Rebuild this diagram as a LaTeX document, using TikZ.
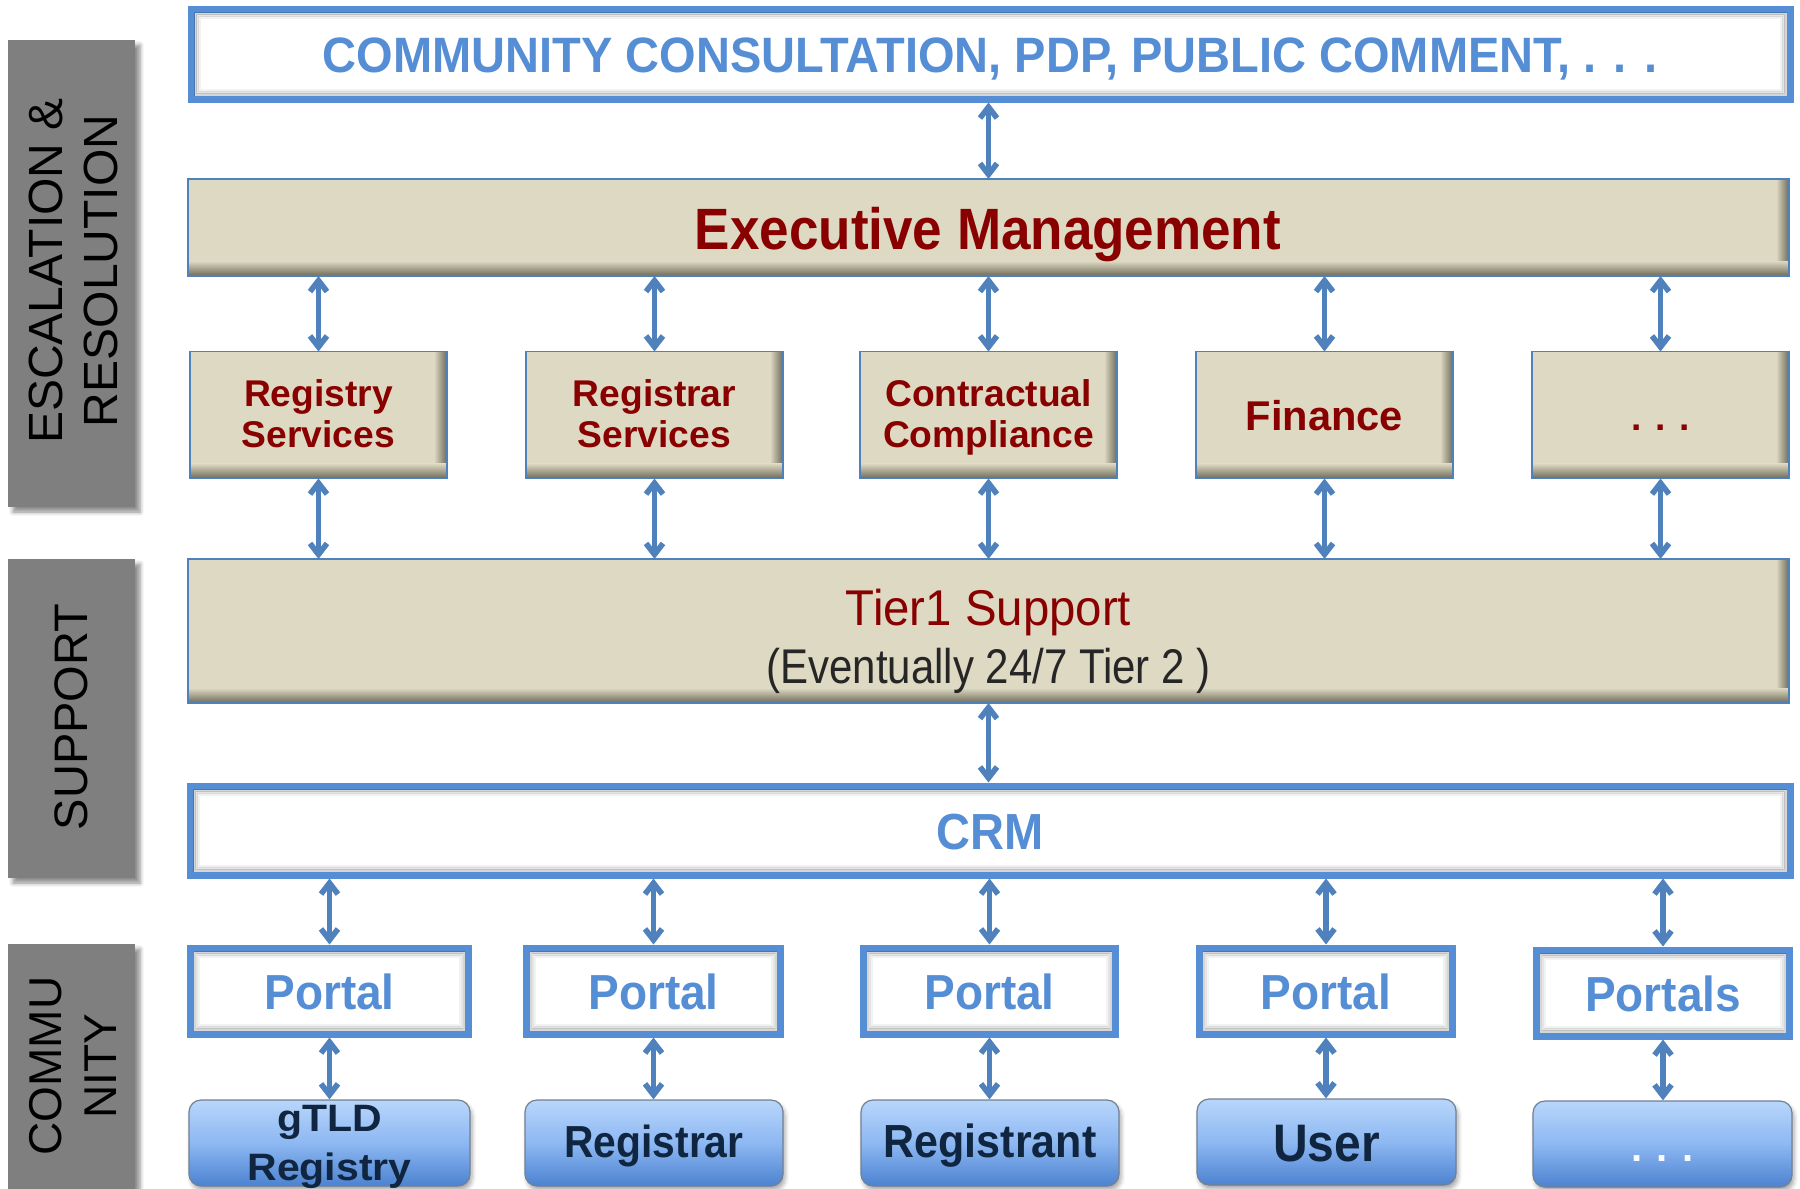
\documentclass[tikz,border=0pt]{standalone}
\usepackage{graphicx}
\usepackage{fontspec}
\setmainfont{Liberation Sans}
\usetikzlibrary{arrows.meta,calc,shadows.blur}
\definecolor{lineblue}{HTML}{558ED5}
\definecolor{arrblue}{HTML}{4F81BD}
\definecolor{tanfill}{HTML}{DDD9C3}
\definecolor{tandark}{HTML}{6F6A57}
\definecolor{dred}{HTML}{880000}
\definecolor{navy}{HTML}{10253F}
\definecolor{barg}{HTML}{7F7F7F}
\definecolor{btop}{HTML}{B8D6FB}
\definecolor{bmid}{HTML}{8DB8F2}
\definecolor{bbot}{HTML}{4C82D0}
\newcommand\fsz[2]{\fontsize{#1pt}{#2pt}\selectfont}
\newcommand\vsc[2]{\scalebox{1}[#1]{#2}}
\newcommand\tanshade[1]{%
  \begin{scope}
    \clip (#1.south west) rectangle (#1.north east);
    \shade[left color=tanfill, right color=tandark] ($(#1.north east)+(-13,0)$) rectangle (#1.south east);
    \shade[top color=tanfill, bottom color=tandark] ($(#1.south west)+(0,-15)$) rectangle (#1.south east);
  \end{scope}
  \draw[arrblue, line width=0.9pt] (#1.south west) rectangle (#1.north east);}
\newcommand\innerglow[1]{%
  \foreach \k/\o in {8/0.16,10/0.10,12/0.05}{%
    \draw[black, opacity=\o, line width=1.2pt] ($(#1.south west)+(\k,-\k)$) rectangle ($(#1.north east)+(-\k,\k)$);}}
\begin{document}
\begin{tikzpicture}[x=0.5pt,y=-0.5pt,
  graybar/.style={fill=barg, inner sep=0pt,
    blur shadow={shadow xshift=2.5pt, shadow yshift=-2.5pt, shadow blur steps=5, shadow opacity=45}},
  bartext/.style={align=center, text=black, inner sep=0pt},
  whitebox/.style={draw=lineblue, line width=3.5pt, fill=white, inner sep=0pt},
  tanbox/.style={draw=arrblue, line width=0.9pt, fill=tanfill, inner sep=0pt, outer sep=0pt},
  btn/.style={rounded corners=6pt, draw=gray!70!arrblue, line width=0.6pt, top color=btop, bottom color=bbot, middle color=bmid,
    inner sep=0pt,
    blur shadow={shadow xshift=1pt, shadow yshift=-2pt, shadow blur steps=4, shadow opacity=35}},
  lbl/.style={inner sep=0pt, anchor=base},
  bluelbl/.style={lbl, text=lineblue, font=\bfseries},
  redlbl/.style={lbl, text=dred, font=\bfseries\fsz{18.6}{22}},
  navylbl/.style={lbl, text=navy, font=\bfseries},
  link/.style={arrblue, line width=2.8pt, {Straight Barb[length=5.5pt,width=8.5pt]}-{Straight Barb[length=5.5pt,width=8.5pt]}}
]
\useasboundingbox (0,0) rectangle (1800,1189);
\clip (0,0) rectangle (1800,1189);

% side bars
\node[graybar, minimum width=63.5pt, minimum height=233.5pt] (gb1) at (71.5,273.5) {};
\node[graybar, minimum width=63.5pt, minimum height=159.5pt] (gb2) at (71.5,718.5) {};
\node[graybar, minimum width=63.5pt, minimum height=128pt] (gb3) at (71.5,1072) {};
\node[bartext, rotate=90, font=\fsz{24}{27.5}] (gt1) at (73,271) {ESCALATION \&\\RESOLUTION};
\node[bartext, rotate=90, font=\fsz{23.5}{27.5}] (gt2) at (71.5,717) {SUPPORT};
\node[bartext, rotate=90, font=\fsz{23}{27.5}] (gt3) at (73,1066) {COMMU\\NITY};

% top box
\node[whitebox, minimum width=799.5pt, minimum height=45pt] (top) at (990.5,54) {};
\innerglow{top}
\node[bluelbl, font=\bfseries\fsz{23.5}{28}] (topt) at (990,72.3) {\vsc{1.057}{COMMUNITY CONSULTATION, PDP, PUBLIC COMMENT, . . .}};

% executive
\node[tanbox, minimum width=800.5pt, minimum height=48.5pt] (exec) at (988.5,227.5) {};
\tanshade{exec}
\node[lbl, text=dred, font=\bfseries\fsz{26.5}{30}] (exect) at (988,249) {\vsc{1.10}{Executive Management}};

% middle boxes
\foreach \i/\x in {1/318.5,2/654.5,3/988.5,4/1324.5,5/1660.5}{
  \node[tanbox, minimum width=128.5pt, minimum height=63.5pt] (m\i) at (\x,415) {};
  \tanshade{m\i}
}
\node[redlbl] (mt1a) at (318.5,406.7) {Registry};
\node[redlbl] (mt1b) at (318.5,447.3) {Services};
\node[redlbl] (mt2a) at (654.5,406.7) {Registrar};
\node[redlbl] (mt2b) at (654.5,447.3) {Services};
\node[redlbl] (mt3a) at (988.5,406.7) {Contractual};
\node[redlbl] (mt3b) at (988.5,447.3) {Compliance};
\node[redlbl, font=\bfseries\fsz{20.8}{24}] (mt4) at (1324.5,430) {Finance};
\node[redlbl] (mt5) at (1660.5,430) {. . .};

% tier1
\node[tanbox, minimum width=800.5pt, minimum height=72pt] (tier) at (988.5,631) {};
\tanshade{tier}
\node[lbl, text=dred, font=\fsz{23.7}{26}] (tiert1) at (988.5,625) {\vsc{1.06}{Tier1 Support}};
\node[lbl, text=black!85, font=\fsz{21}{25}] (tiert2) at (988.5,683.3) {\vsc{1.16}{(Eventually 24/7 Tier 2 )}};

% CRM
\node[whitebox, minimum width=800pt, minimum height=44.5pt] (crm) at (990,830.5) {};
\innerglow{crm}
\node[bluelbl, font=\bfseries\fsz{23.5}{28}] (crmt) at (990,849.5) {\vsc{1.08}{CRM}};

% portals
\node[whitebox, minimum width=139pt, minimum height=43pt] (p1) at (329.5,991) {};
\node[whitebox, minimum width=127pt, minimum height=43pt] (p2) at (653.5,991) {};
\node[whitebox, minimum width=126pt, minimum height=43pt] (p3) at (989.5,991) {};
\node[whitebox, minimum width=126.5pt, minimum height=43pt] (p4) at (1326,991) {};
\node[whitebox, minimum width=126.5pt, minimum height=43pt] (p5) at (1663,993) {};
\foreach \i in {1,...,5}{\innerglow{p\i}}
\foreach \i/\x in {1/329.5,2/653.5,3/989.5,4/1326}{
  \node[bluelbl, font=\bfseries\fsz{23}{27}] (pt\i) at (\x,1009) {\vsc{1.07}{Portal}};
}
\node[bluelbl, font=\bfseries\fsz{23}{27}] (pt5) at (1663,1011) {\vsc{1.07}{Portals}};

% bottom buttons
\node[btn, minimum width=140.5pt, minimum height=43pt] (b1) at (329.5,1143) {};
\node[btn, minimum width=129pt, minimum height=43pt] (b2) at (654,1143) {};
\node[btn, minimum width=129pt, minimum height=43pt] (b3) at (990,1143) {};
\node[btn, minimum width=129.5pt, minimum height=43pt] (b4) at (1326.5,1142) {};
\node[btn, minimum width=129.5pt, minimum height=43pt] (b5) at (1662.5,1144) {};
\node[navylbl, font=\bfseries\fsz{20.5}{24}] (bt1a) at (329.5,1131.7) {\vsc{0.93}{gTLD}};
\node[navylbl, font=\bfseries\fsz{20.5}{24}] (bt1b) at (329.5,1180.7) {\vsc{0.93}{Registry}};
\node[navylbl, font=\bfseries\fsz{20.4}{24}] (bt2) at (654,1157.7) {\vsc{1.1}{Registrar}};
\node[navylbl, font=\bfseries\fsz{21.5}{25}] (bt3) at (990,1157.7) {\vsc{1.08}{Registrant}};
\node[navylbl, font=\bfseries\fsz{24}{28}] (bt4) at (1326.5,1161) {\vsc{1.1}{User}};
\node[lbl, text=white!88!btop, font=\bfseries\fsz{20}{24}] (bt5) at (1662.5,1161) {. . .};

% connectors
\draw[link] (exec.north |- top.south) -- (exec.north);
\foreach \i in {1,...,5}{
  \draw[link] (m\i.north |- exec.south) -- (m\i.north);
  \draw[link] (m\i.south) -- (m\i.south |- tier.north);
}
\draw[link] (tier.south) -- (tier.south |- crm.north);
\foreach \i in {1,...,5}{
  \draw[link] (p\i.north |- crm.south) -- (p\i.north);
  \draw[link] (p\i.south) -- (p\i.south |- b\i.north);
}
\end{tikzpicture}
\end{document}
